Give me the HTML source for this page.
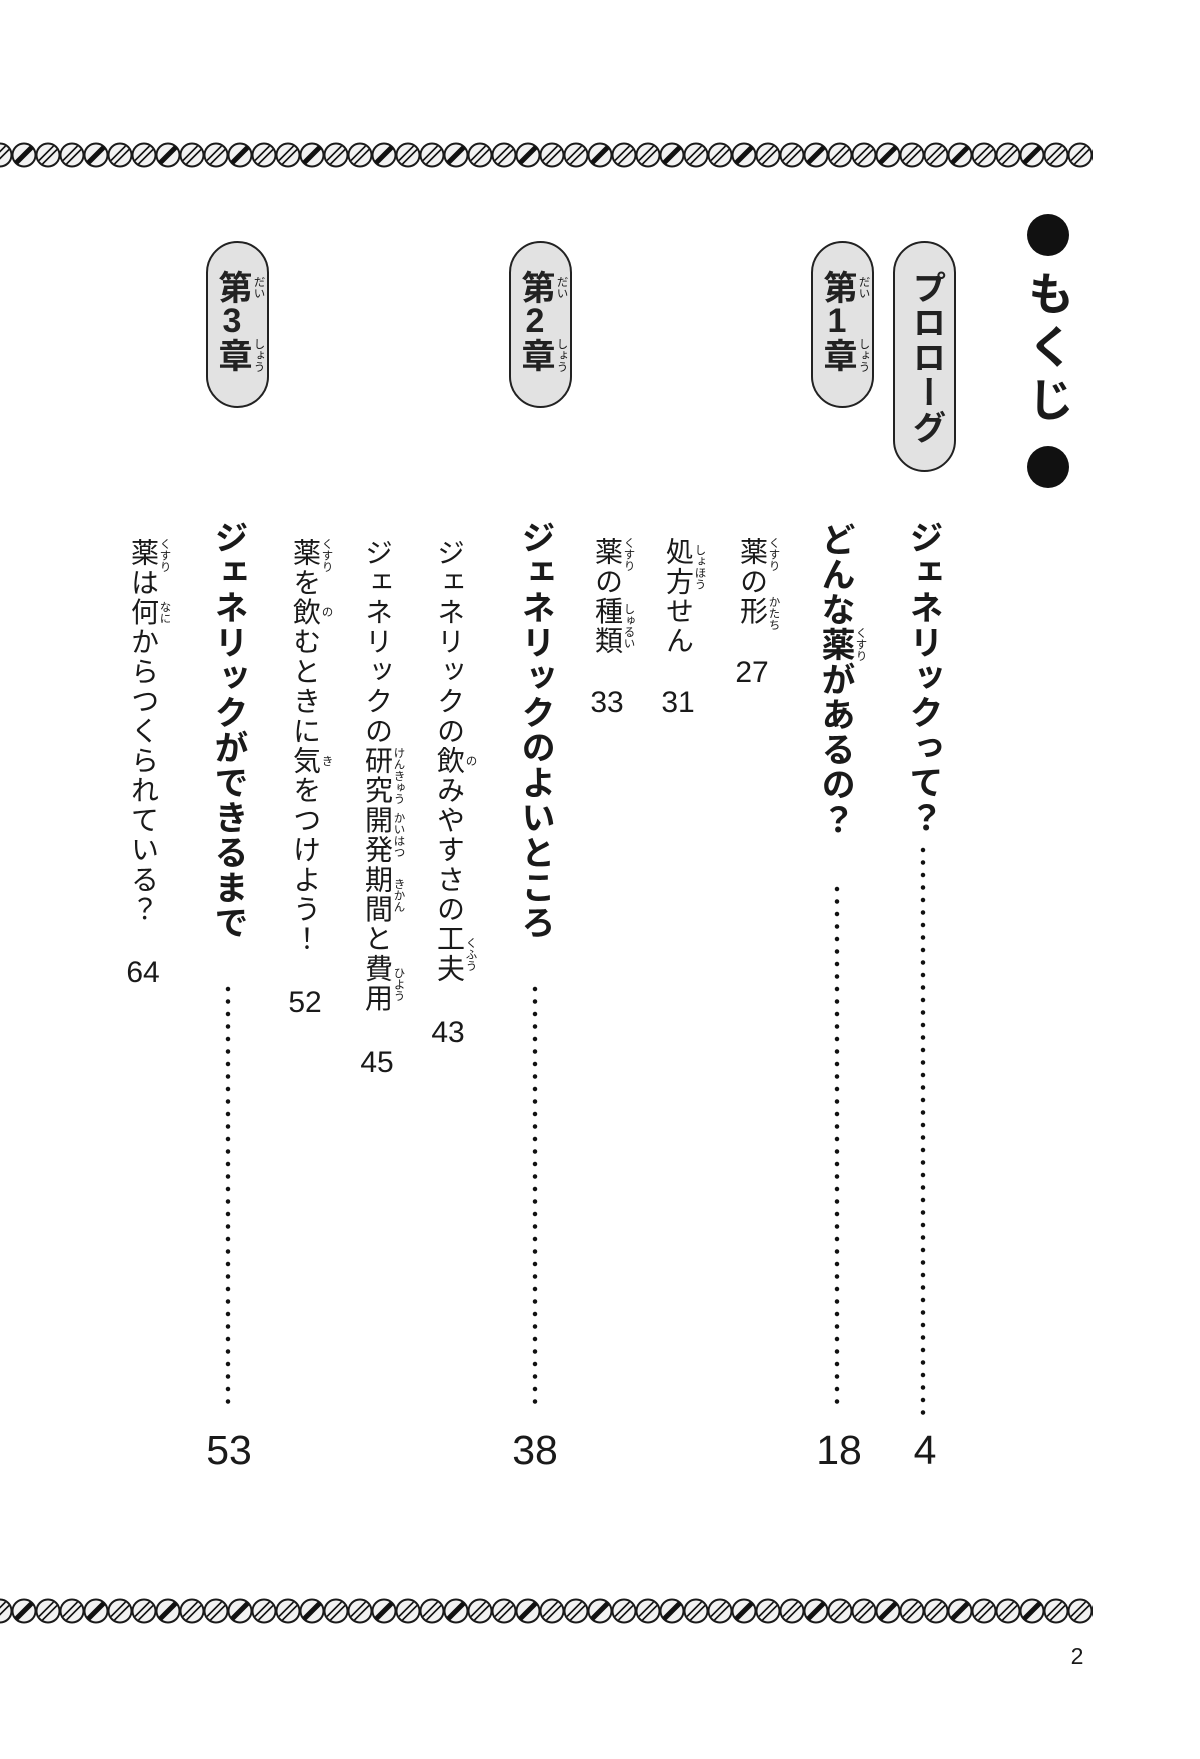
<!DOCTYPE html>
<html><head><meta charset="utf-8">
<style>
html,body{margin:0;padding:0;background:#fff;}
body{width:1200px;height:1759px;position:relative;overflow:hidden;font-family:"Liberation Sans","Noto Sans CJK JP",sans-serif;color:#1a1a1a;}
.v{position:absolute;writing-mode:vertical-rl;line-height:1;white-space:nowrap;}
.m{font-size:34px;font-weight:bold;letter-spacing:1px;}
.s{font-size:28px;letter-spacing:1.7px;}
.r{position:absolute;writing-mode:vertical-rl;font-size:11.5px;line-height:1;text-align:center;white-space:nowrap;}
.n{position:absolute;width:100px;text-align:center;line-height:1;font-family:"Liberation Sans",sans-serif;}
.big{font-size:41px;}
.sm{font-size:30px;}
.pill{position:absolute;background:#e2e2e2;border:2.5px solid #222;border-radius:32px;box-sizing:border-box;}
.tcu{text-combine-upright:all;}
</style></head><body>
<svg width="1200" height="1759" style="position:absolute;left:0;top:0">
<defs>
<g id="cA"><circle r="11.5" fill="#f2f2f2" stroke="#1a1a1a" stroke-width="2"/><line x1="-8" y1="8" x2="8" y2="-8" stroke="#111" stroke-width="5"/></g>
<g id="cB"><circle r="11.5" fill="#f2f2f2" stroke="#1a1a1a" stroke-width="2"/><line x1="-9" y1="5.5" x2="5.5" y2="-9" stroke="#111" stroke-width="1.6"/><line x1="-5.5" y1="9" x2="9" y2="-5.5" stroke="#111" stroke-width="1.6"/></g>
<pattern id="chain" x="-12" y="0" width="72" height="1759" patternUnits="userSpaceOnUse">
<use href="#cB" x="12" y="155"/><use href="#cA" x="36" y="155"/><use href="#cB" x="60" y="155"/>
<use href="#cB" x="12" y="1611"/><use href="#cA" x="36" y="1611"/><use href="#cB" x="60" y="1611"/>
</pattern>
</defs>
<rect x="0" y="140" width="1093" height="30" fill="url(#chain)"/>
<rect x="0" y="1596" width="1093" height="30" fill="url(#chain)"/>
<circle cx="1048" cy="235" r="21" fill="#111"/>
<circle cx="1048" cy="467" r="21" fill="#111"/>
<g stroke="#111" stroke-width="4.5" stroke-linecap="round" stroke-dasharray="0 12.5">
<line x1="923" y1="850" x2="923" y2="1414"/>
<line x1="837" y1="889" x2="837" y2="1414"/>
<line x1="535" y1="989" x2="535" y2="1414"/>
<line x1="228" y1="989" x2="228" y2="1414"/>
</g>
</svg>

<div class="v" style="left:1025px;top:270px;font-size:46px;font-weight:bold;letter-spacing:7px;">もくじ</div>

<div class="pill" style="left:893px;top:241px;width:63px;height:231px;"></div>
<div class="v" style="left:909px;top:270px;font-size:34px;font-weight:bold;color:#222;letter-spacing:1px;">プロローグ</div>

<div class="pill" style="left:811px;top:241px;width:63px;height:167px;"></div>
<div class="v" style="left:820px;top:270px;font-size:34px;font-weight:bold;color:#222;">第<span class="tcu">1</span>章</div>
<div class="r" style="left:857px;top:270px;height:34px;">だい</div>
<div class="r" style="left:857px;top:338px;height:34px;">しょう</div>

<div class="pill" style="left:509px;top:241px;width:63px;height:167px;"></div>
<div class="v" style="left:518px;top:270px;font-size:34px;font-weight:bold;color:#222;">第<span class="tcu">2</span>章</div>
<div class="r" style="left:555px;top:270px;height:34px;">だい</div>
<div class="r" style="left:555px;top:338px;height:34px;">しょう</div>

<div class="pill" style="left:206px;top:241px;width:63px;height:167px;"></div>
<div class="v" style="left:215px;top:270px;font-size:34px;font-weight:bold;color:#222;">第<span class="tcu">3</span>章</div>
<div class="r" style="left:252px;top:270px;height:34px;">だい</div>
<div class="r" style="left:252px;top:338px;height:34px;">しょう</div>

<div class="v m" style="left:906px;top:520px;">ジェネリックって？</div>
<div class="n big" style="left:875px;top:1430px;">4</div>

<div class="v m" style="left:818px;top:522px;">どんな薬があるの？</div>
<div class="r" style="left:854px;top:627px;height:35px;">くすり</div>
<div class="n big" style="left:789px;top:1430px;">18</div>

<div class="v s" style="left:738px;top:537px;">薬の形</div>
<div class="r" style="left:767px;top:537px;height:30px;">くすり</div>
<div class="r" style="left:767px;top:596px;height:30px;">かたち</div>
<div class="n sm" style="left:702px;top:658px;">27</div>

<div class="v s" style="left:664px;top:537px;">処方せん</div>
<div class="r" style="left:693px;top:537px;height:60px;">しょほう</div>
<div class="n sm" style="left:628px;top:688px;">31</div>

<div class="v s" style="left:593px;top:537px;">薬の種類</div>
<div class="r" style="left:622px;top:537px;height:30px;">くすり</div>
<div class="r" style="left:622px;top:596px;height:60px;">しゅるい</div>
<div class="n sm" style="left:557px;top:688px;">33</div>

<div class="v m" style="left:518px;top:520px;">ジェネリックのよいところ</div>
<div class="n big" style="left:485px;top:1430px;">38</div>

<div class="v s" style="left:435px;top:538px;">ジェネリックの飲みやすさの工夫</div>
<div class="r" style="left:464px;top:746px;height:30px;">の</div>
<div class="r" style="left:464px;top:924px;height:60px;">くふう</div>
<div class="n sm" style="left:398px;top:1018px;">43</div>

<div class="v s" style="left:363px;top:538px;">ジェネリックの研究開発期間と費用</div>
<div class="r" style="left:392px;top:746px;height:60px;">けんきゅう</div>
<div class="r" style="left:392px;top:805px;height:60px;">かいはつ</div>
<div class="r" style="left:392px;top:865px;height:60px;">きかん</div>
<div class="r" style="left:392px;top:954px;height:60px;">ひよう</div>
<div class="n sm" style="left:327px;top:1048px;">45</div>

<div class="v s" style="left:291px;top:538px;">薬を飲むときに気をつけよう！</div>
<div class="r" style="left:320px;top:538px;height:30px;">くすり</div>
<div class="r" style="left:320px;top:597px;height:30px;">の</div>
<div class="r" style="left:320px;top:746px;height:30px;">き</div>
<div class="n sm" style="left:255px;top:988px;">52</div>

<div class="v m" style="left:211px;top:520px;">ジェネリックができるまで</div>
<div class="n big" style="left:179px;top:1430px;">53</div>

<div class="v s" style="left:129px;top:538px;">薬は何からつくられている？</div>
<div class="r" style="left:158px;top:538px;height:30px;">くすり</div>
<div class="r" style="left:158px;top:597px;height:30px;">なに</div>
<div class="n sm" style="left:93px;top:958px;">64</div>

<div class="n" style="left:1027px;top:1645px;font-size:23px;">2</div>
</body></html>
